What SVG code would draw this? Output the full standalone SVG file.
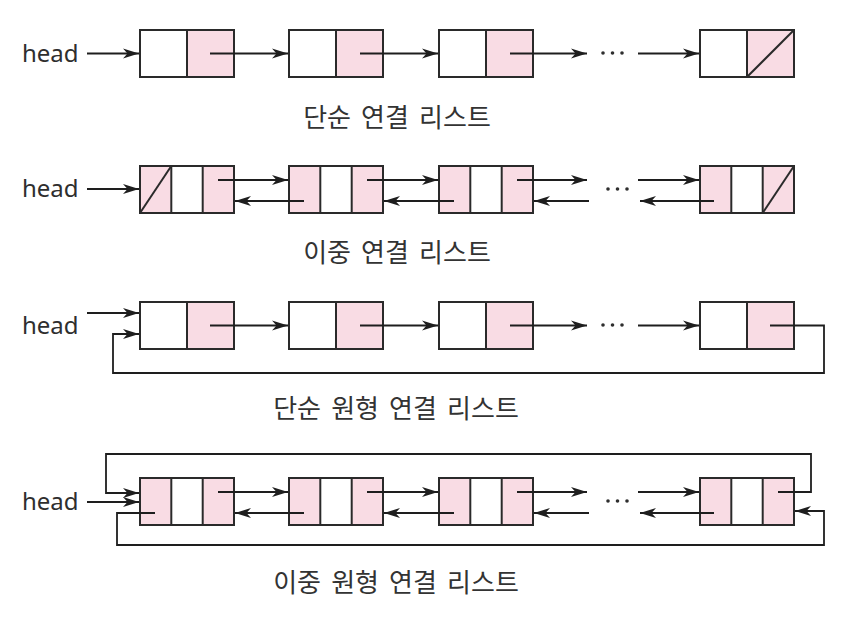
<svg xmlns="http://www.w3.org/2000/svg" width="846" height="618" viewBox="0 0 846 618">
<defs>
<marker id="ah" markerUnits="userSpaceOnUse" markerWidth="17" markerHeight="11" refX="16" refY="5.5" orient="auto">
<path d="M0,0.5 L16,5.5 L0,10.5 L4.5,5.5 z" fill="#1e1e1e"/>
</marker>
<style>
.box{stroke:#2a2a2a;stroke-width:2;}
.pk{fill:#f9dce4;}
.wh{fill:#ffffff;}
.div{stroke:#2a2a2a;stroke-width:2;fill:none;}
.ln{stroke:#1e1e1e;stroke-width:1.8;fill:none;}
.ar{stroke:#1e1e1e;stroke-width:1.8;fill:none;marker-end:url(#ah);}
.hd{font-family:"Noto Sans","Open Sans",sans-serif;font-size:24px;fill:#2e2e2e;}
.cap{font-family:"Noto Sans CJK KR","Noto Sans",sans-serif;font-size:26px;fill:#333333;text-anchor:middle;word-spacing:4.3px;}
.dots{fill:#2e2e2e;}
</style>
</defs>
<rect width="846" height="618" fill="#ffffff"/>

<!-- Row 1: 단순 연결 리스트 -->
<g id="r1-head"><text class="hd" x="22" y="62">head</text></g>
<g id="r1-n1"><rect class="wh" x="140" y="30" width="47" height="47"/><rect class="pk" x="187" y="30" width="47" height="47"/><rect class="box" fill="none" x="140" y="30" width="94" height="47"/><line class="div" x1="187" y1="30" x2="187" y2="77"/></g>
<g id="r1-n2"><rect class="wh" x="289" y="30" width="47" height="47"/><rect class="pk" x="336" y="30" width="47" height="47"/><rect class="box" fill="none" x="289" y="30" width="94" height="47"/><line class="div" x1="336" y1="30" x2="336" y2="77"/></g>
<g id="r1-n3"><rect class="wh" x="439" y="30" width="47" height="47"/><rect class="pk" x="486" y="30" width="47" height="47"/><rect class="box" fill="none" x="439" y="30" width="94" height="47"/><line class="div" x1="486" y1="30" x2="486" y2="77"/></g>
<g id="r1-n4"><rect class="wh" x="700" y="30" width="47" height="47"/><rect class="pk" x="747" y="30" width="47" height="47"/><rect class="box" fill="none" x="700" y="30" width="94" height="47"/><line class="div" x1="747" y1="30" x2="747" y2="77"/><line class="div" x1="747" y1="77" x2="794" y2="30"/></g>
<g id="r1-dots" class="dots"><circle cx="603" cy="53" r="1.8"/><circle cx="612.5" cy="53" r="1.8"/><circle cx="622" cy="53" r="1.8"/></g>
<g id="r1-caption"><text class="cap" x="397" y="127">단순 연결 리스트</text></g>
<g id="r1-connectors">
<path class="ar" d="M87,53.5 H139"/>
<path class="ar" d="M210,53.5 H288"/>
<path class="ar" d="M360,53.5 H438"/>
<path class="ar" d="M510,53.5 H587"/>
<path class="ar" d="M638,53.5 H699"/>
</g>

<!-- Row 2: 이중 연결 리스트 -->
<g id="r2-head"><text class="hd" x="22" y="197">head</text></g>
<g id="r2-n1"><rect class="pk" x="140" y="166" width="94" height="47"/><rect class="wh" x="171.3" y="166" width="31.3" height="47"/><rect class="box" fill="none" x="140" y="166" width="94" height="47"/><line class="div" x1="171.3" y1="166" x2="171.3" y2="213"/><line class="div" x1="202.7" y1="166" x2="202.7" y2="213"/><line class="div" x1="140" y1="213" x2="171.3" y2="166"/></g>
<g id="r2-n2"><rect class="pk" x="289" y="166" width="94" height="47"/><rect class="wh" x="320.3" y="166" width="31.3" height="47"/><rect class="box" fill="none" x="289" y="166" width="94" height="47"/><line class="div" x1="320.3" y1="166" x2="320.3" y2="213"/><line class="div" x1="351.7" y1="166" x2="351.7" y2="213"/></g>
<g id="r2-n3"><rect class="pk" x="439" y="166" width="94" height="47"/><rect class="wh" x="470.3" y="166" width="31.3" height="47"/><rect class="box" fill="none" x="439" y="166" width="94" height="47"/><line class="div" x1="470.3" y1="166" x2="470.3" y2="213"/><line class="div" x1="501.7" y1="166" x2="501.7" y2="213"/></g>
<g id="r2-n4"><rect class="pk" x="700" y="166" width="94" height="47"/><rect class="wh" x="731.3" y="166" width="31.3" height="47"/><rect class="box" fill="none" x="700" y="166" width="94" height="47"/><line class="div" x1="731.3" y1="166" x2="731.3" y2="213"/><line class="div" x1="762.7" y1="166" x2="762.7" y2="213"/><line class="div" x1="762.7" y1="213" x2="794" y2="166"/></g>
<g id="r2-dots" class="dots"><circle cx="608" cy="189" r="1.8"/><circle cx="617.5" cy="189" r="1.8"/><circle cx="627" cy="189" r="1.8"/></g>
<g id="r2-caption"><text class="cap" x="397" y="262">이중 연결 리스트</text></g>
<g id="r2-connectors">
<path class="ar" d="M87,189 H139"/>
<path class="ar" d="M218,180 H288"/>
<path class="ar" d="M304,201 H235"/>
<path class="ar" d="M367,180 H438"/>
<path class="ar" d="M454,201 H384"/>
<path class="ar" d="M517,180 H587"/>
<path class="ar" d="M589,201 H534"/>
<path class="ar" d="M638,180 H699"/>
<path class="ar" d="M714,201 H640"/>
</g>

<!-- Row 3: 단순 원형 연결 리스트 -->
<g id="r3-head"><text class="hd" x="22" y="334">head</text></g>
<g id="r3-n1"><rect class="wh" x="140" y="302" width="47" height="47"/><rect class="pk" x="187" y="302" width="47" height="47"/><rect class="box" fill="none" x="140" y="302" width="94" height="47"/><line class="div" x1="187" y1="302" x2="187" y2="349"/></g>
<g id="r3-n2"><rect class="wh" x="289" y="302" width="47" height="47"/><rect class="pk" x="336" y="302" width="47" height="47"/><rect class="box" fill="none" x="289" y="302" width="94" height="47"/><line class="div" x1="336" y1="302" x2="336" y2="349"/></g>
<g id="r3-n3"><rect class="wh" x="439" y="302" width="47" height="47"/><rect class="pk" x="486" y="302" width="47" height="47"/><rect class="box" fill="none" x="439" y="302" width="94" height="47"/><line class="div" x1="486" y1="302" x2="486" y2="349"/></g>
<g id="r3-n4"><rect class="wh" x="700" y="302" width="47" height="47"/><rect class="pk" x="747" y="302" width="47" height="47"/><rect class="box" fill="none" x="700" y="302" width="94" height="47"/><line class="div" x1="747" y1="302" x2="747" y2="349"/></g>
<g id="r3-dots" class="dots"><circle cx="603" cy="325" r="1.8"/><circle cx="612.5" cy="325" r="1.8"/><circle cx="622" cy="325" r="1.8"/></g>
<g id="r3-caption"><text class="cap" x="396" y="418">단순 원형 연결 리스트</text></g>
<g id="r3-connectors">
<path class="ar" d="M87,313 H139"/>
<path class="ar" d="M210,325.5 H288"/>
<path class="ar" d="M360,325.5 H438"/>
<path class="ar" d="M510,325.5 H587"/>
<path class="ar" d="M638,325.5 H699"/>
<path class="ar" d="M770,325.5 H824 V373 H113 V334 H139"/>
</g>

<!-- Row 4: 이중 원형 연결 리스트 -->
<g id="r4-head"><text class="hd" x="22" y="510">head</text></g>
<g id="r4-n1"><rect class="pk" x="140" y="478" width="94" height="47"/><rect class="wh" x="171.3" y="478" width="31.3" height="47"/><rect class="box" fill="none" x="140" y="478" width="94" height="47"/><line class="div" x1="171.3" y1="478" x2="171.3" y2="525"/><line class="div" x1="202.7" y1="478" x2="202.7" y2="525"/></g>
<g id="r4-n2"><rect class="pk" x="289" y="478" width="94" height="47"/><rect class="wh" x="320.3" y="478" width="31.3" height="47"/><rect class="box" fill="none" x="289" y="478" width="94" height="47"/><line class="div" x1="320.3" y1="478" x2="320.3" y2="525"/><line class="div" x1="351.7" y1="478" x2="351.7" y2="525"/></g>
<g id="r4-n3"><rect class="pk" x="439" y="478" width="94" height="47"/><rect class="wh" x="470.3" y="478" width="31.3" height="47"/><rect class="box" fill="none" x="439" y="478" width="94" height="47"/><line class="div" x1="470.3" y1="478" x2="470.3" y2="525"/><line class="div" x1="501.7" y1="478" x2="501.7" y2="525"/></g>
<g id="r4-n4"><rect class="pk" x="700" y="478" width="94" height="47"/><rect class="wh" x="731.3" y="478" width="31.3" height="47"/><rect class="box" fill="none" x="700" y="478" width="94" height="47"/><line class="div" x1="731.3" y1="478" x2="731.3" y2="525"/><line class="div" x1="762.7" y1="478" x2="762.7" y2="525"/></g>
<g id="r4-dots" class="dots"><circle cx="608" cy="501" r="1.8"/><circle cx="617.5" cy="501" r="1.8"/><circle cx="627" cy="501" r="1.8"/></g>
<g id="r4-caption"><text class="cap" x="396" y="592">이중 원형 연결 리스트</text></g>
<g id="r4-connectors">
<path class="ar" d="M87,502 H139"/>
<path class="ar" d="M778,492 H811 V454 H106 V493 H139"/>
<path class="ar" d="M155,513 H117 V545 H824 V511 H795"/>
<path class="ar" d="M218,492 H288"/>
<path class="ar" d="M304,513 H235"/>
<path class="ar" d="M367,492 H438"/>
<path class="ar" d="M454,513 H384"/>
<path class="ar" d="M517,492 H587"/>
<path class="ar" d="M589,513 H534"/>
<path class="ar" d="M638,492 H699"/>
<path class="ar" d="M714,513 H640"/>
</g>
</svg>
